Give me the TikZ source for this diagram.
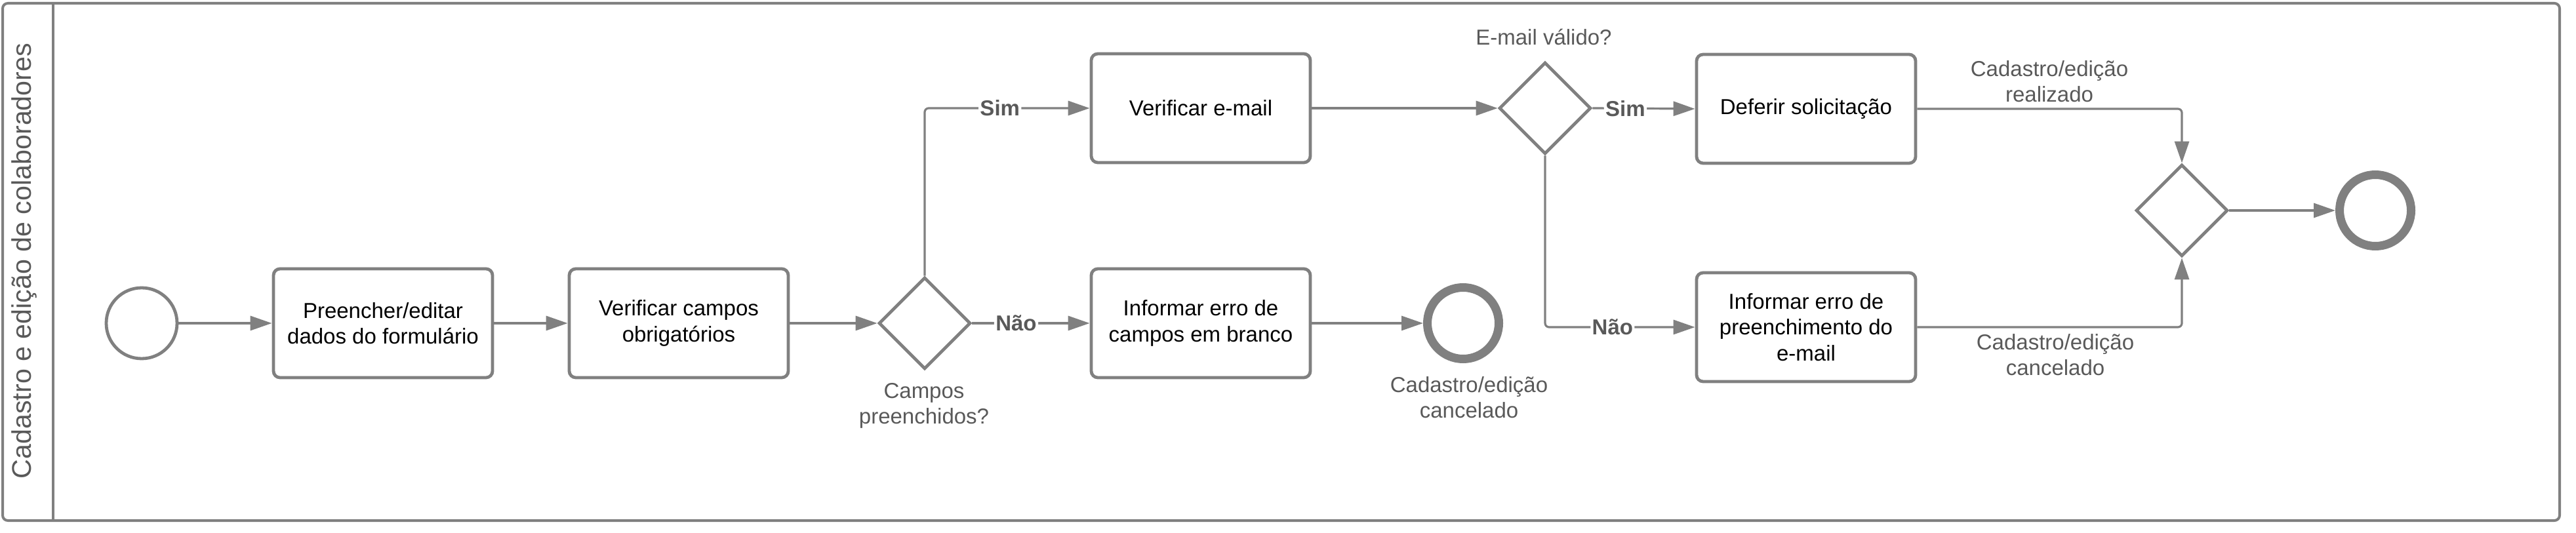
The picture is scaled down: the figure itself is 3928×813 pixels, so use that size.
\documentclass[tikz,border=0pt]{standalone}
\usepackage{fontspec}
\setmainfont{Liberation Sans}
\usetikzlibrary{shapes.geometric,arrows.meta}
\definecolor{lineg}{HTML}{808080}
\definecolor{txtg}{HTML}{595959}
\begin{document}
\begin{tikzpicture}[x=0.25pt,y=-0.25pt,
  task/.style={draw=lineg,line width=1.2pt,rounded corners=2.5pt,fill=white,
    minimum width=83.5pt,minimum height=41.5pt,align=center,inner sep=1pt,
    font=\fontsize{8.25}{9.85}\selectfont},
  gate/.style={diamond,draw=lineg,line width=1.2pt,minimum width=35pt,
    minimum height=35pt,inner sep=0pt,aspect=1,fill=white},
  startev/.style={circle,draw=lineg,line width=1.2pt,minimum size=27pt,inner sep=0pt},
  endev/.style={circle,draw=lineg,line width=3.25pt,minimum size=27.25pt,inner sep=0pt},
  flow/.style={draw=lineg,line width=0.8pt,-{Triangle[length=8.25pt,width=5.5pt]},
    rounded corners=1.5pt},
  lbl/.style={text=txtg,font=\fontsize{8.25}{9.85}\selectfont,align=center,inner sep=0pt},
  cond/.style={text=txtg,font=\bfseries\fontsize{8.25}{9.85}\selectfont,fill=white,
    inner sep=0.6pt}]
\useasboundingbox (0,0) rectangle (3928,813);
% pool frame and lane header
\draw[lineg,line width=1pt,rounded corners=2pt] (4,5) rectangle (3903,794);
\draw[lineg,line width=1pt] (81,5) -- (81,794);
\node[rotate=90,text=txtg,font=\fontsize{10.3}{12}\selectfont,inner sep=0pt]
  (lanetitle) at (37,398) {Cadastro e edição de colaboradores};
% nodes
\node[startev] (start) at (216,493) {};
\node[task] (fill) at (584,493) {Preencher/editar\\dados do formulário};
\node[task] (check) at (1035,493) {Verificar campos\\obrigatórios};
\node[gate] (g1) at (1410,493) {};
\node[lbl] (g1lbl) at (1409,619) {Campos\\preenchidos?};
\node[task] (verif) at (1831,165) {Verificar e-mail};
\node[task] (errblank) at (1831,493) {Informar erro de\\campos em branco};
\node[endev] (end1) at (2231,493) {};
\node[lbl] (end1lbl) at (2240,606) {Cadastro/edição\\cancelado};
\node[gate] (g2) at (2356,165) {};
\node[lbl] (g2lbl) at (2354,57) {E-mail válido?};
\node[task] (defer) at (2754,166) {Deferir solicitação};
\node[task] (errmail) at (2754,499) {Informar erro de\\preenchimento do\\e-mail};
\node[gate] (g3) at (3327,321) {};
\node[endev] (end2) at (3622,321) {};
\node[lbl] (okl) at (3125,124) {Cadastro/edição\\realizado};
\node[lbl] (cancl) at (3134,541) {Cadastro/edição\\cancelado};
% connectors
\draw[flow] (start) -- (fill);
\draw[flow] (fill) -- (check);
\draw[flow] (check) -- (g1.west);
\draw[flow] (g1.north) |- node[cond,pos=0.728] {Sim} (verif.west);
\draw[flow] (g1.east) -- node[cond,pos=0.374] {Não} (errblank.west);
\draw[flow] (errblank) -- (end1);
\draw[flow] (verif.east) -- (g2.west);
\draw[flow] (g2.east) -- node[cond,pos=0.32] {Sim} (defer.west);
\draw[flow] (g2.south) |- node[cond,pos=0.725] {Não} (errmail.west);
\draw[flow] (defer.east) -| (g3.north);
\draw[flow] (errmail.east) -| (g3.south);
\draw[flow] (g3.east) -- (end2);
\end{tikzpicture}
\end{document}
